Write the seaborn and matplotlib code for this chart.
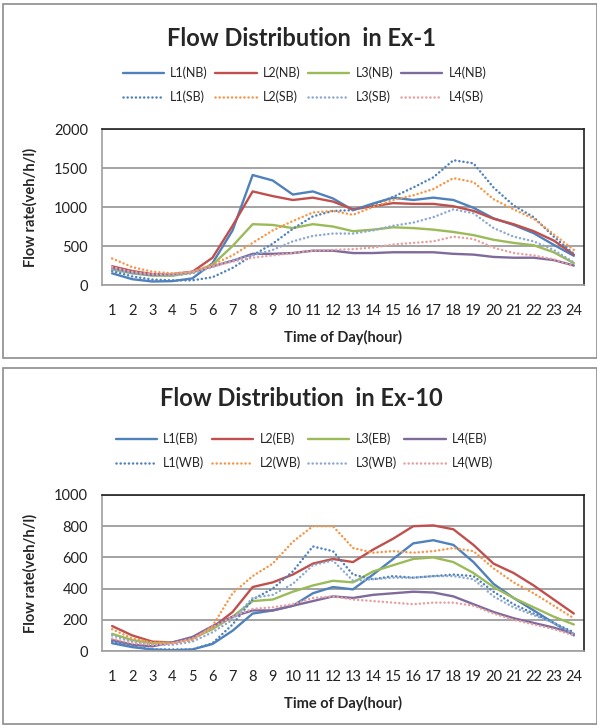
import pandas as pd
import matplotlib
matplotlib.use("Agg")
import matplotlib.pyplot as plt
import seaborn as sns
from matplotlib.patches import Rectangle

hours = list(range(1, 25))

# Ex-1 (NB solid, SB dotted)
ex1_l1_nb = [150, 75, 45, 50, 85, 280, 700, 1410, 1340, 1160, 1200, 1110, 960, 1045, 1120, 1090, 1120, 1090, 990, 855, 770, 665, 515, 375]
ex1_l2_nb = [240, 180, 140, 130, 170, 350, 760, 1200, 1140, 1090, 1120, 1070, 970, 1010, 1050, 1040, 1040, 1010, 950, 850, 780, 690, 570, 390]
ex1_l3_nb = [200, 150, 120, 120, 160, 260, 500, 780, 770, 730, 780, 750, 690, 710, 740, 730, 710, 680, 640, 580, 540, 510, 420, 280]
ex1_l4_nb = [220, 160, 130, 140, 170, 240, 310, 400, 400, 410, 440, 440, 410, 410, 420, 420, 420, 400, 390, 360, 350, 350, 320, 250]
ex1_l1_sb = [180, 110, 70, 60, 60, 100, 220, 380, 530, 720, 880, 950, 960, 1030, 1130, 1250, 1380, 1600, 1560, 1250, 1020, 870, 620, 400]
ex1_l2_sb = [340, 230, 170, 150, 170, 260, 380, 540, 700, 820, 930, 950, 900, 1000, 1090, 1150, 1230, 1370, 1320, 1100, 970, 850, 650, 450]
ex1_l3_sb = [200, 150, 130, 120, 150, 230, 320, 380, 450, 560, 630, 660, 660, 700, 760, 800, 870, 970, 920, 730, 620, 560, 450, 290]
ex1_l4_sb = [230, 170, 140, 140, 170, 240, 300, 350, 380, 410, 440, 450, 460, 480, 520, 540, 560, 620, 590, 480, 410, 380, 330, 240]

# Ex-10 (EB solid, WB dotted)
ex10_l1_eb = [50, 25, 10, 5, 10, 45, 130, 240, 260, 290, 370, 410, 395, 490, 590, 690, 710, 680, 570, 430, 340, 260, 180, 100]
ex10_l2_eb = [160, 100, 60, 55, 80, 150, 250, 410, 440, 490, 560, 590, 570, 650, 720, 800, 805, 780, 680, 560, 500, 420, 330, 240]
ex10_l3_eb = [110, 70, 50, 55, 80, 140, 220, 320, 330, 380, 420, 450, 440, 510, 550, 590, 600, 570, 500, 410, 340, 280, 220, 170]
ex10_l4_eb = [70, 40, 30, 55, 90, 160, 220, 260, 260, 290, 320, 350, 340, 360, 370, 380, 375, 350, 300, 250, 210, 180, 150, 110]
ex10_l1_wb = [60, 30, 10, 10, 10, 50, 170, 330, 400, 510, 670, 640, 490, 460, 480, 470, 480, 490, 480, 380, 300, 240, 180, 120]
ex10_l2_wb = [140, 80, 55, 50, 70, 160, 370, 480, 560, 700, 800, 800, 660, 630, 640, 630, 640, 660, 640, 530, 440, 370, 290, 210]
ex10_l3_wb = [100, 60, 40, 40, 60, 120, 200, 340, 360, 430, 550, 580, 450, 460, 470, 470, 480, 480, 460, 350, 280, 230, 180, 110]
ex10_l4_wb = [80, 50, 40, 50, 80, 150, 220, 270, 280, 300, 340, 350, 330, 320, 310, 300, 310, 310, 290, 240, 200, 170, 140, 100]

colors = ["#4F81BD", "#C0504D", "#9BBB59", "#7F6A9C", "#4F81BD", "#F79646", "#8DA9CF", "#E6A0A0"]

sns.set_style("white")
plt.rcParams["font.family"] = ["Lato", "DejaVu Sans"]

fig = plt.figure(figsize=(5.97, 7.26), dpi=100)


def draw_panel(series, names, title, ylim, yticks, ax_rect, panel_rect, title_y, leg_y):
    fig.patches.append(Rectangle(panel_rect[:2], panel_rect[2], panel_rect[3],
                                 transform=fig.transFigure, fill=False,
                                 edgecolor="#8c8c8c", linewidth=1.2))
    ax = fig.add_axes(ax_rect)
    rows = []
    for name, vals in zip(names, series):
        for h, v in zip(hours, vals):
            rows.append({"hour": h, "flow": v, "series": name})
    df = pd.DataFrame(rows)
    palette = dict(zip(names, colors))
    dashes = {n: ("" if i < 4 else (0.05, 1.6)) for i, n in enumerate(names)}
    sns.lineplot(data=df, x="hour", y="flow", hue="series", style="series",
                 palette=palette, dashes=dashes, linewidth=1.7, ax=ax,
                 legend=False)
    for i, ln in enumerate(ax.get_lines()):
        ln.set_dash_capstyle("round")
        if i >= 4:
            ln.set_linewidth(1.8)
    ax.set_xlim(0.5, 24.5)
    ax.set_ylim(*ylim)
    ax.set_yticks(yticks)
    ax.set_xticks(hours)
    ax.yaxis.grid(True, color="#8a8a8a", linewidth=1.1)
    ax.set_axisbelow(True)
    ax.tick_params(axis="both", length=0, labelsize=10.5, colors="#222222")
    ax.tick_params(axis="x", pad=14)
    ax.tick_params(axis="y", pad=10)
    for s in ["left", "bottom"]:
        ax.spines[s].set_color("#a0a0a0")
        ax.spines[s].set_linewidth(1.2)
    for s in ["top", "right"]:
        ax.spines[s].set_color("#202020")
        ax.spines[s].set_linewidth(1.2)
    ax.set_xlabel("Time of Day(hour)", fontsize=10.5, fontweight="bold", labelpad=8)
    ax.set_ylabel("Flow rate(veh/h/l)", fontsize=10.5, fontweight="bold", labelpad=12)
    fig.text(0.505, title_y, title, ha="center", va="center",
             fontsize=17, fontweight="bold")
    lines = ax.get_lines()
    order = [0, 4, 1, 5, 2, 6, 3, 7]
    fig.legend([lines[i] for i in order], [names[i] for i in order],
               ncol=4, loc="center", bbox_to_anchor=(0.51, leg_y),
               frameon=False, fontsize=9, handlelength=3.3,
               handletextpad=0.5, columnspacing=0.6, labelspacing=0.95)
    return ax


draw_panel([ex1_l1_nb, ex1_l2_nb, ex1_l3_nb, ex1_l4_nb,
            ex1_l1_sb, ex1_l2_sb, ex1_l3_sb, ex1_l4_sb],
           ["L1(NB)", "L2(NB)", "L3(NB)", "L4(NB)",
            "L1(SB)", "L2(SB)", "L3(SB)", "L4(SB)"],
           "Flow Distribution  in Ex-1", (0, 2000), [0, 500, 1000, 1500, 2000],
           [0.171, 0.6074, 0.807, 0.2149], (0.005, 0.507, 0.995, 0.488),
           1 - 38 / 726, 1 - 85 / 726)

draw_panel([ex10_l1_eb, ex10_l2_eb, ex10_l3_eb, ex10_l4_eb,
            ex10_l1_wb, ex10_l2_wb, ex10_l3_wb, ex10_l4_wb],
           ["L1(EB)", "L2(EB)", "L3(EB)", "L4(EB)",
            "L1(WB)", "L2(WB)", "L3(WB)", "L4(WB)"],
           "Flow Distribution  in Ex-10", (0, 1000), [0, 200, 400, 600, 800, 1000],
           [0.171, 0.1033, 0.807, 0.2149], (0.005, 0.003, 0.995, 0.49),
           1 - 398 / 726, 1 - 451 / 726)

fig.savefig("out.png", dpi=100)
